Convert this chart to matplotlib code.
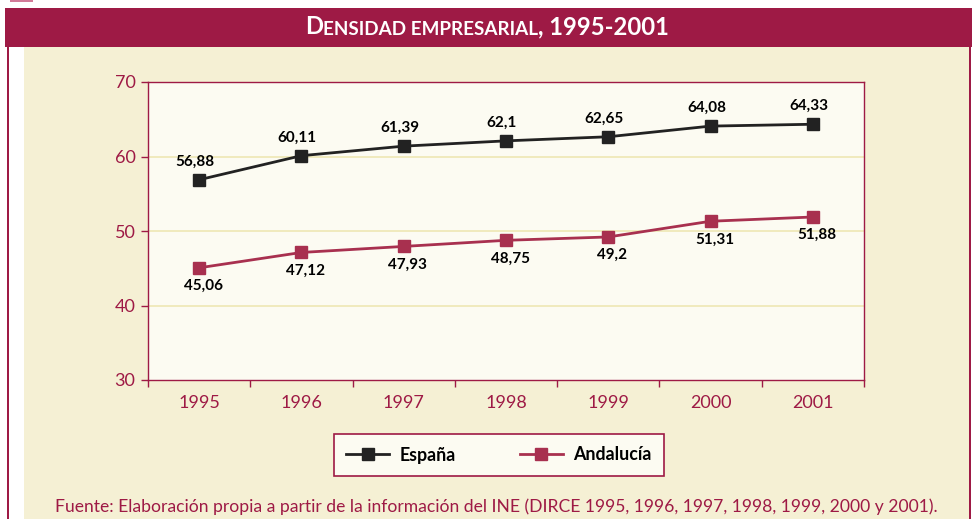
import matplotlib
matplotlib.use("Agg")
import matplotlib.pyplot as plt
from matplotlib.patches import Rectangle

plt.rcParams['font.family'] = ['Lato', 'DejaVu Sans']

# datos
years = ["1995", "1996", "1997", "1998", "1999", "2000", "2001"]
espana = [56.88, 60.11, 61.39, 62.1, 62.65, 64.08, 64.33]
andalucia = [45.06, 47.12, 47.93, 48.75, 49.2, 51.31, 51.88]
y_ticks = [30, 40, 50, 60, 70]

MAROON = "#9E1A45"
CREAM = "#F5F0D4"
PLOT_BG = "#FCFBF2"
GRID = "#EEE7B4"
C_ESP = "#222222"
C_AND = "#A8304F"

W, H = 972, 519
fig = plt.figure(figsize=(W / 100, H / 100), dpi=100, facecolor="white")


def box(x0, y0, x1, y1, color):
    # rectangulo en pixeles (origen arriba a la izquierda)
    fig.patches.append(Rectangle((x0 / W, 1 - y1 / H), (x1 - x0) / W, (y1 - y0) / H,
                                 transform=fig.transFigure, color=color, zorder=-5, lw=0))


box(10, 0, 33, 2, "#D27A98")
box(24, 47, 969, 519, CREAM)
box(7, 47, 9, 519, MAROON)
box(969, 47, 971, 519, MAROON)
box(5, 8, 972, 47, MAROON)

ax = fig.add_axes([148 / W, 1 - 380 / H, (864 - 148) / W, (380 - 82) / H])
ax.set_facecolor(PLOT_BG)
x = list(range(len(years)))

# titulo en versalitas
t1 = ax.annotate("D", xy=(305 / W, 1 - 34 / H), xycoords="figure fraction", color="white",
                 fontsize=17.2, fontweight="bold", va="baseline", ha="left", annotation_clip=False)
t2 = ax.annotate("ENSIDAD EMPRESARIAL", xy=(1, 0), xycoords=t1, va="bottom", ha="left",
                 color="white", fontsize=13.6, fontweight="bold", annotation_clip=False)
t3 = ax.annotate(", 1995-2001", xy=(1, 0), xycoords=t2, va="bottom", ha="left",
                 color="white", fontsize=17.2, fontweight="bold", annotation_clip=False)

ax.plot(x, espana, color=C_ESP, lw=2, marker="s", ms=9, label="España", zorder=3)
ax.plot(x, andalucia, color=C_AND, lw=2, marker="s", ms=9, label="Andalucía", zorder=3)

for i, v in enumerate(espana):
    ax.annotate(f"{v:g}".replace(".", ","), (i, v), xytext=(-3, 8), textcoords="offset points",
                ha="center", va="bottom", fontsize=11, fontweight="bold", color="black")
for i, v in enumerate(andalucia):
    ax.annotate(f"{v:g}".replace(".", ","), (i, v), xytext=(3, -8), textcoords="offset points",
                ha="center", va="top", fontsize=11, fontweight="bold", color="black")

ax.set_xlim(-0.5, len(years) - 0.5)
ax.set_ylim(30, 70)
ax.set_yticks(y_ticks)
ax.set_yticklabels([str(t) for t in y_ticks])
ax.set_xticks([i - 0.5 for i in range(len(years) + 1)])
ax.set_xticklabels([])
ax.set_xticks(x, minor=True)
ax.set_xticklabels(years, minor=True)
ax.tick_params(axis="x", which="minor", length=0, pad=11, labelsize=13, labelcolor=MAROON)
ax.tick_params(axis="x", which="major", length=5, width=1, color=MAROON)
ax.tick_params(axis="y", length=5, width=1, color=MAROON, labelsize=13, labelcolor=MAROON, pad=4)

for y in y_ticks[1:-1]:
    ax.axhline(y, color=GRID, lw=1.2, zorder=1)
for s in ax.spines.values():
    s.set_color(MAROON)
    s.set_linewidth(1)

leg = fig.legend(loc="center", bbox_to_anchor=(499 / W, 1 - 455 / H), ncol=2,
                 frameon=True, fancybox=False, edgecolor=MAROON, facecolor=PLOT_BG,
                 prop={"weight": "bold", "size": 12.8}, handlelength=2.4, columnspacing=3.6,
                 borderpad=0.7, handletextpad=0.6, borderaxespad=0)
leg.get_frame().set_linewidth(1.2)
leg.get_frame().set_alpha(1)

fig.text(496 / W, 1 - 507 / H,
         "Fuente: Elaboración propia a partir de la información del INE (DIRCE 1995, 1996, 1997, 1998, 1999, 2000 y 2001).",
         ha="center", va="center", color=MAROON, fontsize=12.6)

fig.savefig("out.png", dpi=100, facecolor="white")
